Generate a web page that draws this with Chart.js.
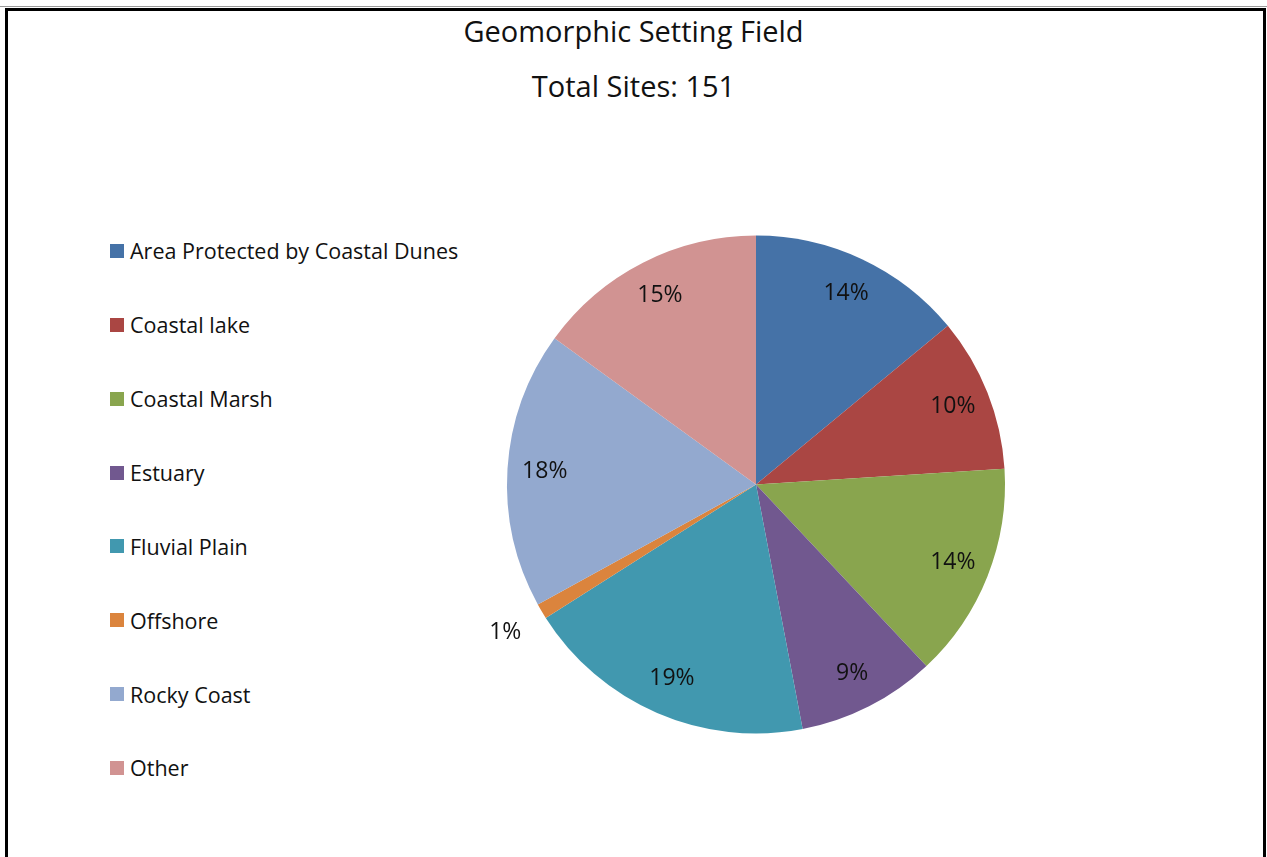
<!DOCTYPE html>
<html>
<head>
<meta charset="utf-8">
<script src="https://cdn.jsdelivr.net/npm/chart.js@4/dist/chart.umd.min.js"></script>
<style>
  html, body { margin: 0; padding: 0; background: #fff; overflow: hidden; }
  body { width: 1267px; height: 857px; position: relative; font-family: 'Open Sans', sans-serif; color: #111; }
  .topRule { position: absolute; left: 0; top: 6px; width: 1267px; height: 1px; background: #9a9a9a; }
  .frame { position: absolute; left: 5px; top: 8px; width: 1261px; height: 900px; border: 3px solid #000; box-sizing: border-box; }
  .title { position: absolute; left: 0; width: 1267px; text-align: center; font-size: 29px; line-height: 40px; }
  #legend { position: absolute; left: 110px; top: 214px; }
  #legend .item { height: 73.86px; display: flex; align-items: center; font-size: 21.5px; white-space: nowrap; }
  #legend .swatch { width: 14px; height: 14px; margin-right: 6px; }
  #pieWrap { position: absolute; left: 440px; top: 160px; width: 632px; height: 649px; }
</style>
</head>
<body>
<div class="topRule"></div>
<div class="frame"></div>
<div class="title" id="title1" style="top: 11px;"></div>
<div class="title" id="title2" style="top: 66px;"></div>
<div id="legend"></div>
<div id="pieWrap"><canvas id="pieChart"></canvas></div>

<script>
const chartTitle = 'Geomorphic Setting Field';
const totalSites = 151;

const settings = [
  'Area Protected by Coastal Dunes',
  'Coastal lake',
  'Coastal Marsh',
  'Estuary',
  'Fluvial Plain',
  'Offshore',
  'Rocky Coast',
  'Other',
];
const sharePct = [14, 10, 14, 9, 19, 1, 18, 15];
const sliceColors = ['#4572A7', '#AA4643', '#89A54E', '#71588F', '#4198AF', '#DB843D', '#93A9CF', '#D19392'];

document.getElementById('title1').textContent = chartTitle;
document.getElementById('title2').textContent = 'Total Sites: ' + totalSites;

// legend on the left, one row per setting
const legendEl = document.getElementById('legend');
settings.forEach((name, i) => {
  const row = document.createElement('div');
  row.className = 'item';
  const sw = document.createElement('span');
  sw.className = 'swatch';
  sw.style.background = sliceColors[i];
  const txt = document.createElement('span');
  txt.textContent = name;
  row.appendChild(sw);
  row.appendChild(txt);
  legendEl.appendChild(row);
});

// percent labels: inside the slice, or outside for very thin ones
const pctLabels = {
  id: 'pctLabels',
  afterDatasetsDraw(chart) {
    const { ctx } = chart;
    const meta = chart.getDatasetMeta(0);
    ctx.save();
    ctx.font = '23px "Open Sans", sans-serif';
    ctx.fillStyle = '#111';
    ctx.textAlign = 'center';
    ctx.textBaseline = 'middle';
    meta.data.forEach((arc, i) => {
      const { x, y, startAngle, endAngle, outerRadius } = arc.getProps(['x', 'y', 'startAngle', 'endAngle', 'outerRadius'], true);
      const mid = (startAngle + endAngle) / 2;
      const r = sharePct[i] < 3 ? outerRadius * 1.17 : outerRadius * 0.85;
      ctx.fillText(sharePct[i] + '%', x + Math.cos(mid) * r, y + Math.sin(mid) * r);
    });
    ctx.restore();
  },
};

new Chart(document.getElementById('pieChart'), {
  type: 'pie',
  data: {
    labels: settings,
    datasets: [
      {
        data: sharePct,
        backgroundColor: sliceColors,
        borderWidth: 0,
      },
    ],
  },
  options: {
    responsive: true,
    maintainAspectRatio: false,
    animation: false,
    radius: 249,
    plugins: {
      legend: { display: false },
      tooltip: { enabled: false },
    },
  },
  plugins: [pctLabels],
});
</script>
</body>
</html>
